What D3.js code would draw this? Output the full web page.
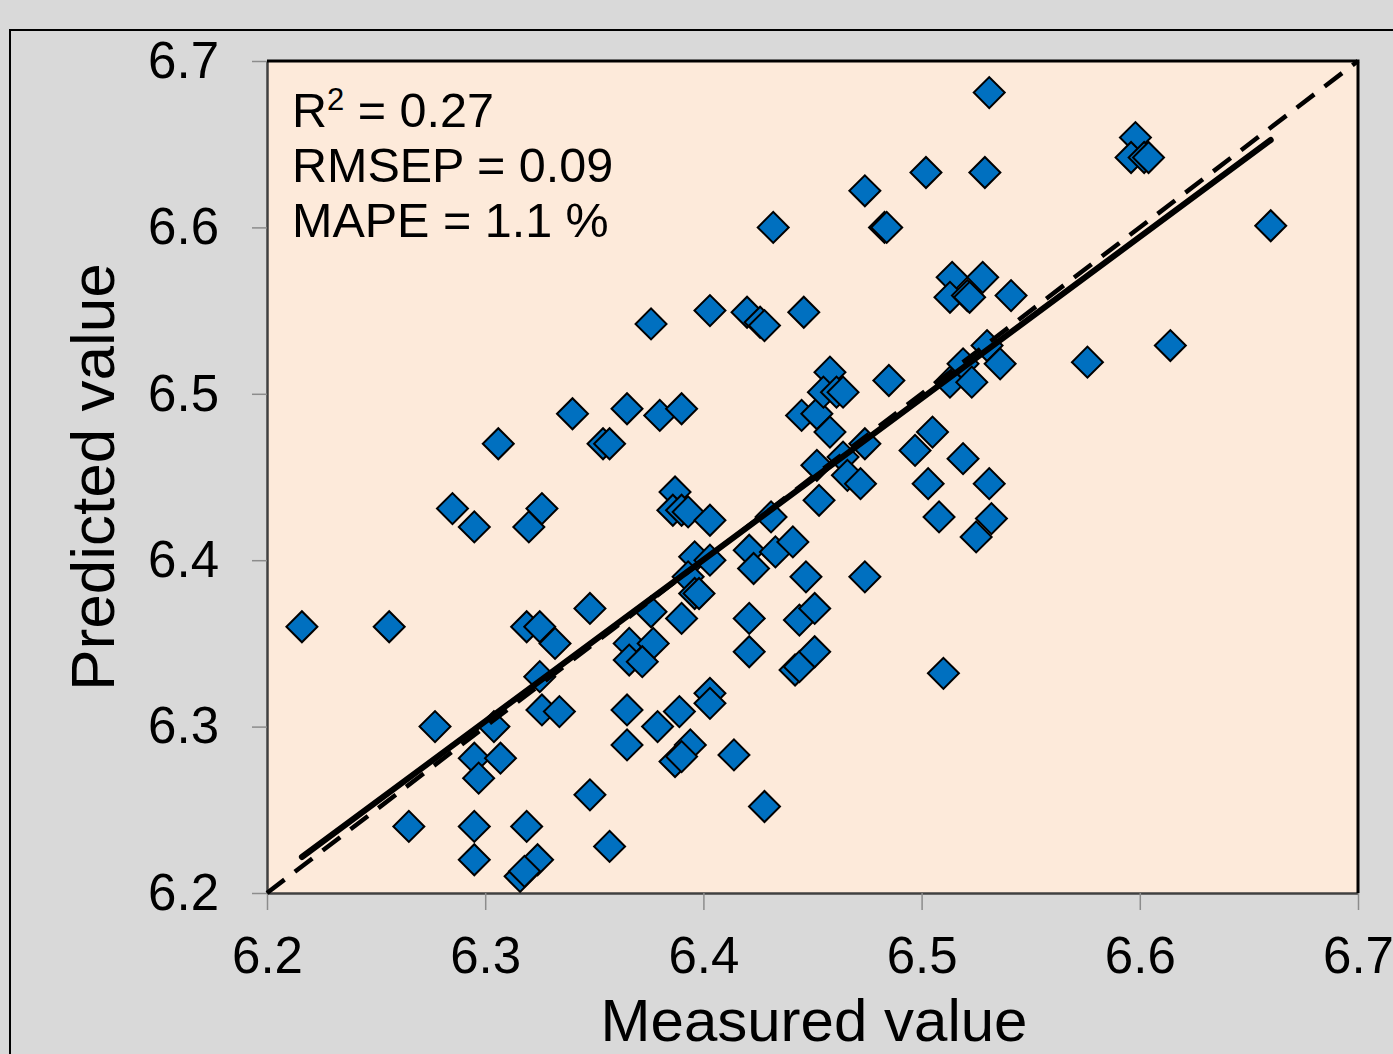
<!DOCTYPE html>
<html>
<head>
<meta charset="utf-8">
<script src="https://cdn.jsdelivr.net/npm/d3@7"></script>
<style>
  html, body { margin: 0; padding: 0; background: #d9d9d9; }
  svg { display: block; font-family: "Liberation Sans", Arial, sans-serif; }
</style>
</head>
<body>
<div id="chart"></div>
<script>
var svgWidth = 1393;
var svgHeight = 1054;

var margin = { top: 61, right: 35, bottom: 161, left: 267 };
var width = svgWidth - margin.left - margin.right;
var height = svgHeight - margin.top - margin.bottom;

// data
var measured = [
  6.216, 6.256, 6.265, 6.277, 6.285, 6.295, 6.306, 6.295, 6.295, 6.295,
  6.297, 6.304, 6.307, 6.320, 6.326, 6.319, 6.325, 6.332, 6.325, 6.326,
  6.334, 6.319, 6.324, 6.316, 6.318, 6.340, 6.348, 6.348, 6.354, 6.357,
  6.357, 6.365, 6.366, 6.366, 6.365, 6.365, 6.376, 6.376, 6.377, 6.372,
  6.379, 6.380, 6.390, 6.387, 6.386, 6.390, 6.393, 6.396, 6.393, 6.396,
  6.390, 6.398, 6.403, 6.403, 6.403, 6.403, 6.389, 6.394, 6.387, 6.390,
  6.403, 6.420, 6.426, 6.428, 6.432, 6.446, 6.414, 6.428, 6.421, 6.423,
  6.421, 6.421, 6.431, 6.433, 6.441, 6.442, 6.444, 6.447, 6.444, 6.451,
  6.451, 6.445, 6.452, 6.458, 6.455, 6.461, 6.464, 6.458, 6.453, 6.452,
  6.464, 6.466, 6.472, 6.474, 6.474, 6.474, 6.483, 6.484, 6.485, 6.497,
  6.502, 6.505, 6.503, 6.508, 6.510, 6.513, 6.514, 6.513, 6.521, 6.522,
  6.519, 6.523, 6.519, 6.528, 6.529, 6.531, 6.530, 6.525, 6.532, 6.531,
  6.536, 6.541, 6.576, 6.614, 6.598, 6.596, 6.602, 6.604, 6.660
];
var predicted = [
  6.360, 6.360, 6.240, 6.300, 6.431, 6.420, 6.470, 6.240, 6.220, 6.281,
  6.269, 6.300, 6.281, 6.420, 6.431, 6.360, 6.360, 6.350, 6.330, 6.310,
  6.309, 6.240, 6.220, 6.210, 6.213, 6.488, 6.371, 6.259, 6.470, 6.470,
  6.228, 6.491, 6.350, 6.340, 6.310, 6.289, 6.542, 6.369, 6.350, 6.339,
  6.300, 6.487, 6.491, 6.441, 6.430, 6.430, 6.429, 6.402, 6.390, 6.380,
  6.365, 6.380, 6.424, 6.400, 6.320, 6.314, 6.309, 6.289, 6.279, 6.282,
  6.550, 6.549, 6.543, 6.541, 6.600, 6.549, 6.283, 6.252, 6.406, 6.395,
  6.365, 6.345, 6.426, 6.405, 6.411, 6.334, 6.336, 6.390, 6.364, 6.371,
  6.345, 6.487, 6.488, 6.513, 6.501, 6.501, 6.501, 6.477, 6.436, 6.457,
  6.462, 6.451, 6.446, 6.470, 6.390, 6.622, 6.600, 6.600, 6.508, 6.466,
  6.633, 6.477, 6.446, 6.426, 6.332, 6.507, 6.570, 6.558, 6.559, 6.558,
  6.518, 6.507, 6.461, 6.570, 6.633, 6.681, 6.529, 6.414, 6.425, 6.446,
  6.518, 6.559, 6.519, 6.529, 6.654, 6.642, 6.642, 6.642, 6.601
];
var axisTicks = [6.2, 6.3, 6.4, 6.5, 6.6, 6.7];
var fitSlope = 0.9705;
var fitIntercept = 0.189;
var statLines = ["RMSEP = 0.09", "MAPE = 1.1 %"];
var r2Value = "0.27";

var points = measured.map(function(m, i) { return { x: m, y: predicted[i] }; });

var svg = d3.select("#chart")
  .append("svg")
  .attr("width", svgWidth)
  .attr("height", svgHeight);

// outer frame
svg.append("rect")
  .attr("x", 10).attr("y", 30)
  .attr("width", svgWidth + 20).attr("height", svgHeight + 20)
  .attr("fill", "#d9d9d9")
  .attr("stroke", "#000")
  .attr("stroke-width", 2);

var chartGroup = svg.append("g")
  .attr("transform", `translate(${margin.left}, ${margin.top})`);

var xScale = d3.scaleLinear().domain([6.2, 6.7]).range([0, width]);
var yScale = d3.scaleLinear().domain([6.2, 6.7]).range([height, 0]);

// plot area
chartGroup.append("rect")
  .attr("width", width)
  .attr("height", height)
  .attr("fill", "#fdeada");

// axes
var bottomAxis = d3.axisBottom(xScale)
  .tickValues(axisTicks)
  .tickFormat(d3.format(".1f"))
  .tickSize(17)
  .tickSizeOuter(0)
  .tickPadding(27);
var leftAxis = d3.axisLeft(yScale)
  .tickValues(axisTicks)
  .tickFormat(d3.format(".1f"))
  .tickSize(15)
  .tickSizeOuter(0)
  .tickPadding(33);

var xAxisG = chartGroup.append("g")
  .attr("transform", `translate(0, ${height})`)
  .call(bottomAxis);
var yAxisG = chartGroup.append("g")
  .call(leftAxis);

[xAxisG, yAxisG].forEach(function(g) {
  g.select(".domain").attr("stroke", "#404040").attr("stroke-width", 2.5);
  g.selectAll(".tick line").attr("stroke", "#8c8c8c").attr("stroke-width", 1.5);
  g.selectAll(".tick text")
    .attr("fill", "#000")
    .style("font-size", "51px")
    .style("font-family", "'Liberation Sans', Arial, sans-serif");
});

// top and right border
chartGroup.append("path")
  .attr("d", `M0,0H${width}V${height}`)
  .attr("fill", "none")
  .attr("stroke", "#000")
  .attr("stroke-width", 3);

// points
var diamond = d3.symbol().type(d3.symbolSquare).size(480);
chartGroup.selectAll("path.pt")
  .data(points)
  .enter()
  .append("path")
  .attr("class", "pt")
  .attr("d", diamond)
  .attr("transform", d => `translate(${xScale(d.x)}, ${yScale(d.y)}) rotate(45)`)
  .attr("fill", "#0070c0")
  .attr("stroke", "#000")
  .attr("stroke-width", 2);

// 1:1 line
chartGroup.append("line")
  .attr("x1", xScale(6.2)).attr("y1", yScale(6.2))
  .attr("x2", xScale(6.7)).attr("y2", yScale(6.7))
  .attr("stroke", "#000")
  .attr("stroke-width", 4.5)
  .attr("stroke-dasharray", "22,13");

// fitted line
var xMin = d3.min(measured), xMax = d3.max(measured);
chartGroup.append("line")
  .attr("x1", xScale(xMin)).attr("y1", yScale(fitIntercept + fitSlope * xMin))
  .attr("x2", xScale(xMax)).attr("y2", yScale(fitIntercept + fitSlope * xMax))
  .attr("stroke", "#000")
  .attr("stroke-width", 6)
  .attr("stroke-linecap", "round");

// statistics
var stats = svg.append("g").style("font-size", "48.5px").attr("fill", "#000");
var r2 = stats.append("text").attr("x", 292).attr("y", 127);
r2.append("tspan").text("R");
r2.append("tspan").attr("dy", -17).style("font-size", "31px").text("2");
r2.append("tspan").attr("dy", 17).text(" = " + r2Value);
statLines.forEach(function(s, i) {
  stats.append("text").attr("x", 292).attr("y", 182 + i * 55).text(s);
});

// axis titles
svg.append("text")
  .attr("transform", "translate(114, 477) rotate(-90)")
  .attr("text-anchor", "middle")
  .style("font-size", "62px")
  .text("Predicted value");

svg.append("text")
  .attr("x", 814)
  .attr("y", 1041)
  .attr("text-anchor", "middle")
  .style("font-size", "60px")
  .text("Measured value");
</script>
</body>
</html>
